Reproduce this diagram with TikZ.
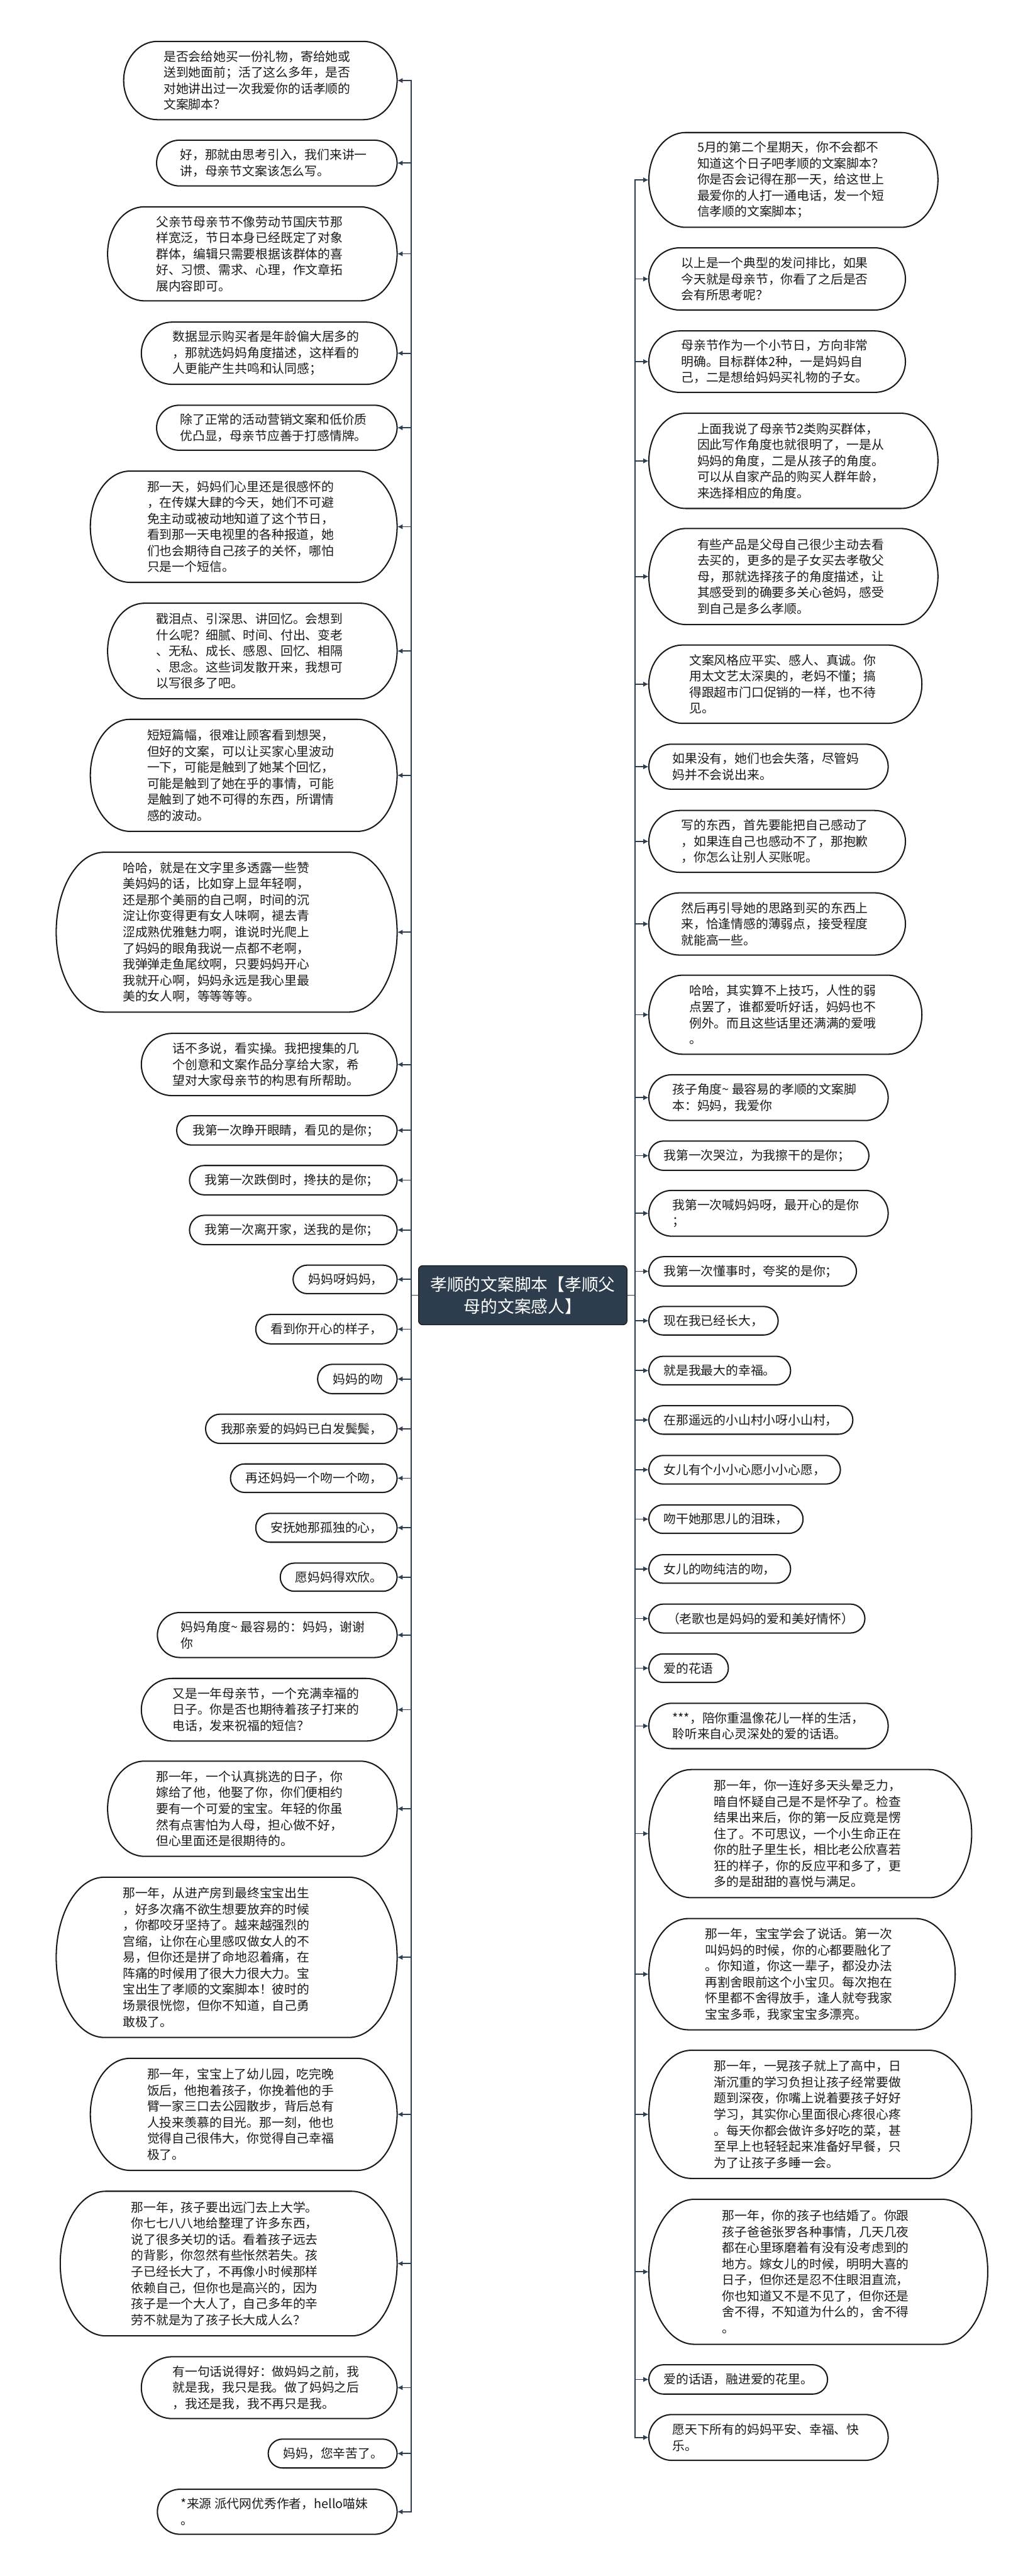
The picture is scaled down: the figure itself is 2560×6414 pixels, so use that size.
\documentclass[tikz,border=0pt]{standalone}
\usepackage{fontspec}
\setmainfont{Noto Sans CJK SC}
\usetikzlibrary{arrows.meta}
\definecolor{lnk}{HTML}{2F3E4E}
\definecolor{bdr}{HTML}{1A1A1A}
\definecolor{ctr}{HTML}{2E3D4D}
\tikzset{
  bubline/.style={draw=bdr, line width=0.032cm, fill=white},
  box/.style={draw=none, inner sep=0pt, rectangle},
  txt/.style={align=left, inner sep=0pt, text=bdr, font=\fontsize{8.82pt}{11.38pt}\selectfont},
  lk/.style={draw=lnk, line width=0.028cm, -{Latex[length=0.13cm,width=0.13cm]}},
  centre/.style={rectangle, rounded corners=0.1cm, fill=ctr, draw=bdr, line width=0.02cm,
    text=white, align=center, minimum width=5.19cm, minimum height=1.47cm, inner sep=0pt,
    font=\fontsize{11.9pt}{15.6pt}\selectfont}
}
\newcommand\bub[7]{%
  \pgfmathsetmacro\bcy{(#4+#5)/2}%
  \pgfmathsetmacro\bry{(#5-#4)/2}%
  \pgfmathsetmacro\brx{min(\bry,0.35*\bry+50)}%
  \pgfmathsetmacro\bkx{0.5523*\brx}%
  \pgfmathsetmacro\bky{0.5523*\bry}%
  \pgfmathsetmacro\bL{#2+\brx}%
  \pgfmathsetmacro\bR{#3-\brx}%
  \draw[bubline] (\bL,#4) -- (\bR,#4)
     .. controls ({\bR+\bkx},#4) and (#3,{\bcy-\bky}) .. (#3,\bcy)
     .. controls (#3,{\bcy+\bky}) and ({\bR+\bkx},#5) .. (\bR,#5)
     -- (\bL,#5)
     .. controls ({\bL-\bkx},#5) and (#2,{\bcy+\bky}) .. (#2,\bcy)
     .. controls (#2,{\bcy-\bky}) and ({\bL-\bkx},#4) .. (\bL,#4) -- cycle;
  \node[box, minimum width={(#3-#2)*0.01cm}, minimum height={(#5-#4)*0.01cm}] (#1) at ({(#2+#3)/2},\bcy) {};
  \node[txt, anchor=west] (#1t) at (#6,\bcy) {#7};
}
\begin{document}
\begin{tikzpicture}[x=0.01cm, y=-0.01cm]
\useasboundingbox[fill=white] (0,0) rectangle (2560,6414);

% centre
\node[centre] (C) at (1302,3225) {孝顺的文案脚本【孝顺父\\母的文案感人】};
\coordinate (LJ) at (1024,3225);
\coordinate (RJ) at (1582,3225);

% left column
\bub{l1}{308}{989}{103}{298}{407}{是否会给她买一份礼物，寄给她或\\送到她面前；活了这么多年，是否\\对她讲出过一次我爱你的话孝顺的\\文案脚本？}
\bub{l2}{390}{989}{349}{463}{448}{好，那就由思考引入，我们来讲一\\讲，母亲节文案该怎么写。}
\bub{l3}{268}{989}{515}{749}{388}{父亲节母亲节不像劳动节国庆节那\\样宽泛，节日本身已经既定了对象\\群体，编辑只需要根据该群体的喜\\好、习惯、需求、心理，作文章拓\\展内容即可。}
\bub{l4}{352}{989}{802}{957}{429}{数据显示购买者是年龄偏大居多的\\，那就选妈妈角度描述，这样看的\\人更能产生共鸣和认同感；}
\bub{l5}{390}{989}{1009}{1121}{448}{除了正常的活动营销文案和低价质\\优凸显，母亲节应善于打感情牌。}
\bub{l6}{225}{989}{1173}{1450}{366}{那一天，妈妈们心里还是很感怀的\\，在传媒大肆的今天，她们不可避\\免主动或被动地知道了这个节日，\\看到那一天电视里的各种报道，她\\们也会期待自己孩子的关怀，哪怕\\只是一个短信。}
\bub{l7}{268}{989}{1502}{1740}{388}{戳泪点、引深思、讲回忆。会想到\\什么呢？细腻、时间、付出、变老\\、无私、成长、感恩、回忆、相隔\\、思念。这些词发散开来，我想可\\以写很多了吧。}
\bub{l8}{225}{989}{1791}{2070}{366}{短短篇幅，很难让顾客看到想哭，\\但好的文案，可以让买家心里波动\\一下，可能是触到了她某个回忆，\\可能是触到了她在乎的事情，可能\\是触到了她不可得的东西，所谓情\\感的波动。}
\bub{l9}{140}{989}{2122}{2520}{305}{哈哈，就是在文字里多透露一些赞\\美妈妈的话，比如穿上显年轻啊，\\还是那个美丽的自己啊，时间的沉\\淀让你变得更有女人味啊，褪去青\\涩成熟优雅魅力啊，谁说时光爬上\\了妈妈的眼角我说一点都不老啊，\\我弹弹走鱼尾纹啊，只要妈妈开心\\我就开心啊，妈妈永远是我心里最\\美的女人啊，等等等等。}
\bub{l10}{352}{989}{2573}{2728}{429}{话不多说，看实操。我把搜集的几\\个创意和文案作品分享给大家，希\\望对大家母亲节的构思有所帮助。}
\bub{l11}{440}{989}{2778}{2851}{479}{我第一次睁开眼睛，看见的是你；}
\bub{l12}{472}{989}{2902}{2975}{509}{我第一次跌倒时，搀扶的是你；}
\bub{l13}{472}{989}{3026}{3099}{509}{我第一次离开家，送我的是你；}
\bub{l14}{730}{989}{3150}{3221}{768}{妈妈呀妈妈，}
\bub{l15}{637}{989}{3273}{3346}{673}{看到你开心的样子，}
\bub{l16}{791}{989}{3397}{3470}{829}{妈妈的吻}
\bub{l17}{512}{989}{3521}{3594}{549}{我那亲爱的妈妈已白发鬓鬓，}
\bub{l18}{574}{989}{3645}{3716}{611}{再还妈妈一个吻一个吻，}
\bub{l19}{637}{989}{3768}{3840}{673}{安抚她那孤独的心，}
\bub{l20}{698}{989}{3892}{3962}{735}{愿妈妈得欢欣。}
\bub{l21}{392}{989}{4015}{4127}{450}{妈妈角度\textasciitilde{} 最容易的：妈妈，谢谢\\你}
\bub{l22}{352}{989}{4179}{4335}{429}{又是一年母亲节，一个充满幸福的\\日子。你是否也期待着孩子打来的\\电话，发来祝福的短信？}
\bub{l23}{268}{989}{4385}{4622}{388}{那一年，一个认真挑选的日子，你\\嫁给了他，他娶了你，你们便相约\\要有一个可爱的宝宝。年轻的你虽\\然有点害怕为人母，担心做不好，\\但心里面还是很期待的。}
\bub{l24}{140}{989}{4674}{5073}{305}{那一年，从进产房到最终宝宝出生\\，好多次痛不欲生想要放弃的时候\\，你都咬牙坚持了。越来越强烈的\\宫缩，让你在心里感叹做女人的不\\易，但你还是拼了命地忍着痛，在\\阵痛的时候用了很大力很大力。宝\\宝出生了孝顺的文案脚本！彼时的\\场景很恍惚，但你不知道，自己勇\\敢极了。}
\bub{l25}{225}{989}{5125}{5404}{366}{那一年，宝宝上了幼儿园，吃完晚\\饭后，他抱着孩子，你挽着他的手\\臂一家三口去公园散步，背后总有\\人投来羡慕的目光。那一刻，他也\\觉得自己很伟大，你觉得自己幸福\\极了。}
\bub{l26}{150}{989}{5456}{5816}{326}{那一年，孩子要出远门去上大学。\\你七七八八地给整理了许多东西，\\说了很多关切的话。看着孩子远去\\的背影，你忽然有些怅然若失。孩\\子已经长大了，不再像小时候那样\\依赖自己，但你也是高兴的，因为\\孩子是一个大人了，自己多年的辛\\劳不就是为了孩子长大成人么？}
\bub{l27}{352}{989}{5868}{6022}{429}{有一句话说得好：做妈妈之前，我\\就是我，我只是我。做了妈妈之后\\，我还是我，我不再只是我。}
\bub{l28}{668}{989}{6073}{6145}{705}{妈妈，您辛苦了。}
\bub{l29}{392}{989}{6198}{6310}{450}{*来源 派代网优秀作者，hello喵妹\\。}

% right column
\bub{r1}{1616}{2336}{330}{566}{1736}{5月的第二个星期天，你不会都不\\知道这个日子吧孝顺的文案脚本？\\你是否会记得在那一天，给这世上\\最爱你的人打一通电话，发一个短\\信孝顺的文案脚本；}
\bub{r2}{1616}{2255}{617}{772}{1696}{以上是一个典型的发问排比，如果\\今天就是母亲节，你看了之后是否\\会有所思考呢？}
\bub{r3}{1616}{2255}{824}{977}{1696}{母亲节作为一个小节日，方向非常\\明确。目标群体2种，一是妈妈自\\己，二是想给妈妈买礼物的子女。}
\bub{r4}{1616}{2336}{1029}{1266}{1736}{上面我说了母亲节2类购买群体，\\因此写作角度也就很明了，一是从\\妈妈的角度，二是从孩子的角度。\\可以从自家产品的购买人群年龄，\\来选择相应的角度。}
\bub{r5}{1616}{2336}{1316}{1555}{1736}{有些产品是父母自己很少主动去看\\去买的，更多的是子女买去孝敬父\\母，那就选择孩子的角度描述，让\\其感受到的确要多关心爸妈，感受\\到自己是多么孝顺。}
\bub{r6}{1616}{2296}{1606}{1801}{1716}{文案风格应平实、感人、真诚。你\\用太文艺太深奥的，老妈不懂；搞\\得跟超市门口促销的一样，也不待\\见。}
\bub{r7}{1616}{2212}{1853}{1965}{1674}{如果没有，她们也会失落，尽管妈\\妈并不会说出来。}
\bub{r8}{1616}{2255}{2018}{2172}{1696}{写的东西，首先要能把自己感动了\\，如果连自己也感动不了，那抱歉\\，你怎么让别人买账呢。}
\bub{r9}{1616}{2255}{2223}{2378}{1696}{然后再引导她的思路到买的东西上\\来，恰逢情感的薄弱点，接受程度\\就能高一些。}
\bub{r10}{1616}{2296}{2428}{2625}{1716}{哈哈，其实算不上技巧，人性的弱\\点罢了，谁都爱听好话，妈妈也不\\例外。而且这些话里还满满的爱哦\\。}
\bub{r11}{1616}{2212}{2676}{2790}{1674}{孩子角度\textasciitilde{} 最容易的孝顺的文案脚\\本：妈妈，我爱你}
\bub{r12}{1616}{2164}{2841}{2914}{1652}{我第一次哭泣，为我擦干的是你；}
\bub{r13}{1616}{2212}{2964}{3078}{1674}{我第一次喊妈妈呀，最开心的是你\\；}
\bub{r14}{1616}{2133}{3129}{3202}{1652}{我第一次懂事时，夸奖的是你；}
\bub{r15}{1616}{1938}{3253}{3324}{1652}{现在我已经长大，}
\bub{r16}{1616}{1969}{3377}{3448}{1652}{就是我最大的幸福。}
\bub{r17}{1616}{2124}{3500}{3571}{1652}{在那遥远的小山村小呀小山村，}
\bub{r18}{1616}{2093}{3624}{3695}{1652}{女儿有个小小心愿小小心愿，}
\bub{r19}{1616}{2000}{3747}{3818}{1652}{吻干她那思儿的泪珠，}
\bub{r20}{1616}{1969}{3871}{3942}{1652}{女儿的吻纯洁的吻，}
\bub{r21}{1616}{2154}{3994}{4066}{1661}{（老歌也是妈妈的爱和美好情怀）}
\bub{r22}{1616}{1814}{4118}{4189}{1652}{爱的花语}
\bub{r23}{1616}{2212}{4241}{4354}{1674}{***，陪你重温像花儿一样的生活，\\聆听来自心灵深处的爱的话语。}
\bub{r24}{1616}{2420}{4406}{4725}{1778}{那一年，你一连好多天头晕乏力，\\暗自怀疑自己是不是怀孕了。检查\\结果出来后，你的第一反应竟是愣\\住了。不可思议，一个小生命正在\\你的肚子里生长，相比老公欣喜若\\狂的样子，你的反应平和多了，更\\多的是甜甜的喜悦与满足。}
\bub{r25}{1616}{2379}{4777}{5054}{1756}{那一年，宝宝学会了说话。第一次\\叫妈妈的时候，你的心都要融化了\\。你知道，你这一辈子，都没办法\\再割舍眼前这个小宝贝。每次抱在\\怀里都不舍得放手，逢人就夸我家\\宝宝多乖，我家宝宝多漂亮。}
\bub{r26}{1616}{2420}{5105}{5424}{1778}{那一年，一晃孩子就上了高中，日\\渐沉重的学习负担让孩子经常要做\\题到深夜，你嘴上说着要孩子好好\\学习，其实你心里面很心疼很心疼\\。每天你都会做许多好吃的菜，甚\\至早上也轻轻起来准备好早餐，只\\为了让孩子多睡一会。}
\bub{r27}{1616}{2460}{5476}{5837}{1798}{那一年，你的孩子也结婚了。你跟\\孩子爸爸张罗各种事情，几天几夜\\都在心里琢磨着有没有没考虑到的\\地方。嫁女儿的时候，明明大喜的\\日子，但你还是忍不住眼泪直流，\\你也知道又不是不见了，但你还是\\舍不得，不知道为什么的，舍不得\\。}
\bub{r28}{1616}{2061}{5888}{5961}{1652}{爱的话语，融进爱的花里。}
\bub{r29}{1616}{2212}{6012}{6126}{1674}{愿天下所有的妈妈平安、幸福、快\\乐。}

% connectors
\foreach \n in {l1,l2,l3,l4,l5,l6,l7,l8,l9,l10,l11,l12,l13,l14,l15,l16,l17,l18,l19,l20,l21,l22,l23,l24,l25,l26,l27,l28,l29}
  \draw[lk] (C.west) -- (LJ) |- (\n.east);
\foreach \n in {r1,r2,r3,r4,r5,r6,r7,r8,r9,r10,r11,r12,r13,r14,r15,r16,r17,r18,r19,r20,r21,r22,r23,r24,r25,r26,r27,r28,r29}
  \draw[lk] (C.east) -- (RJ) |- (\n.west);
\end{tikzpicture}
\end{document}
